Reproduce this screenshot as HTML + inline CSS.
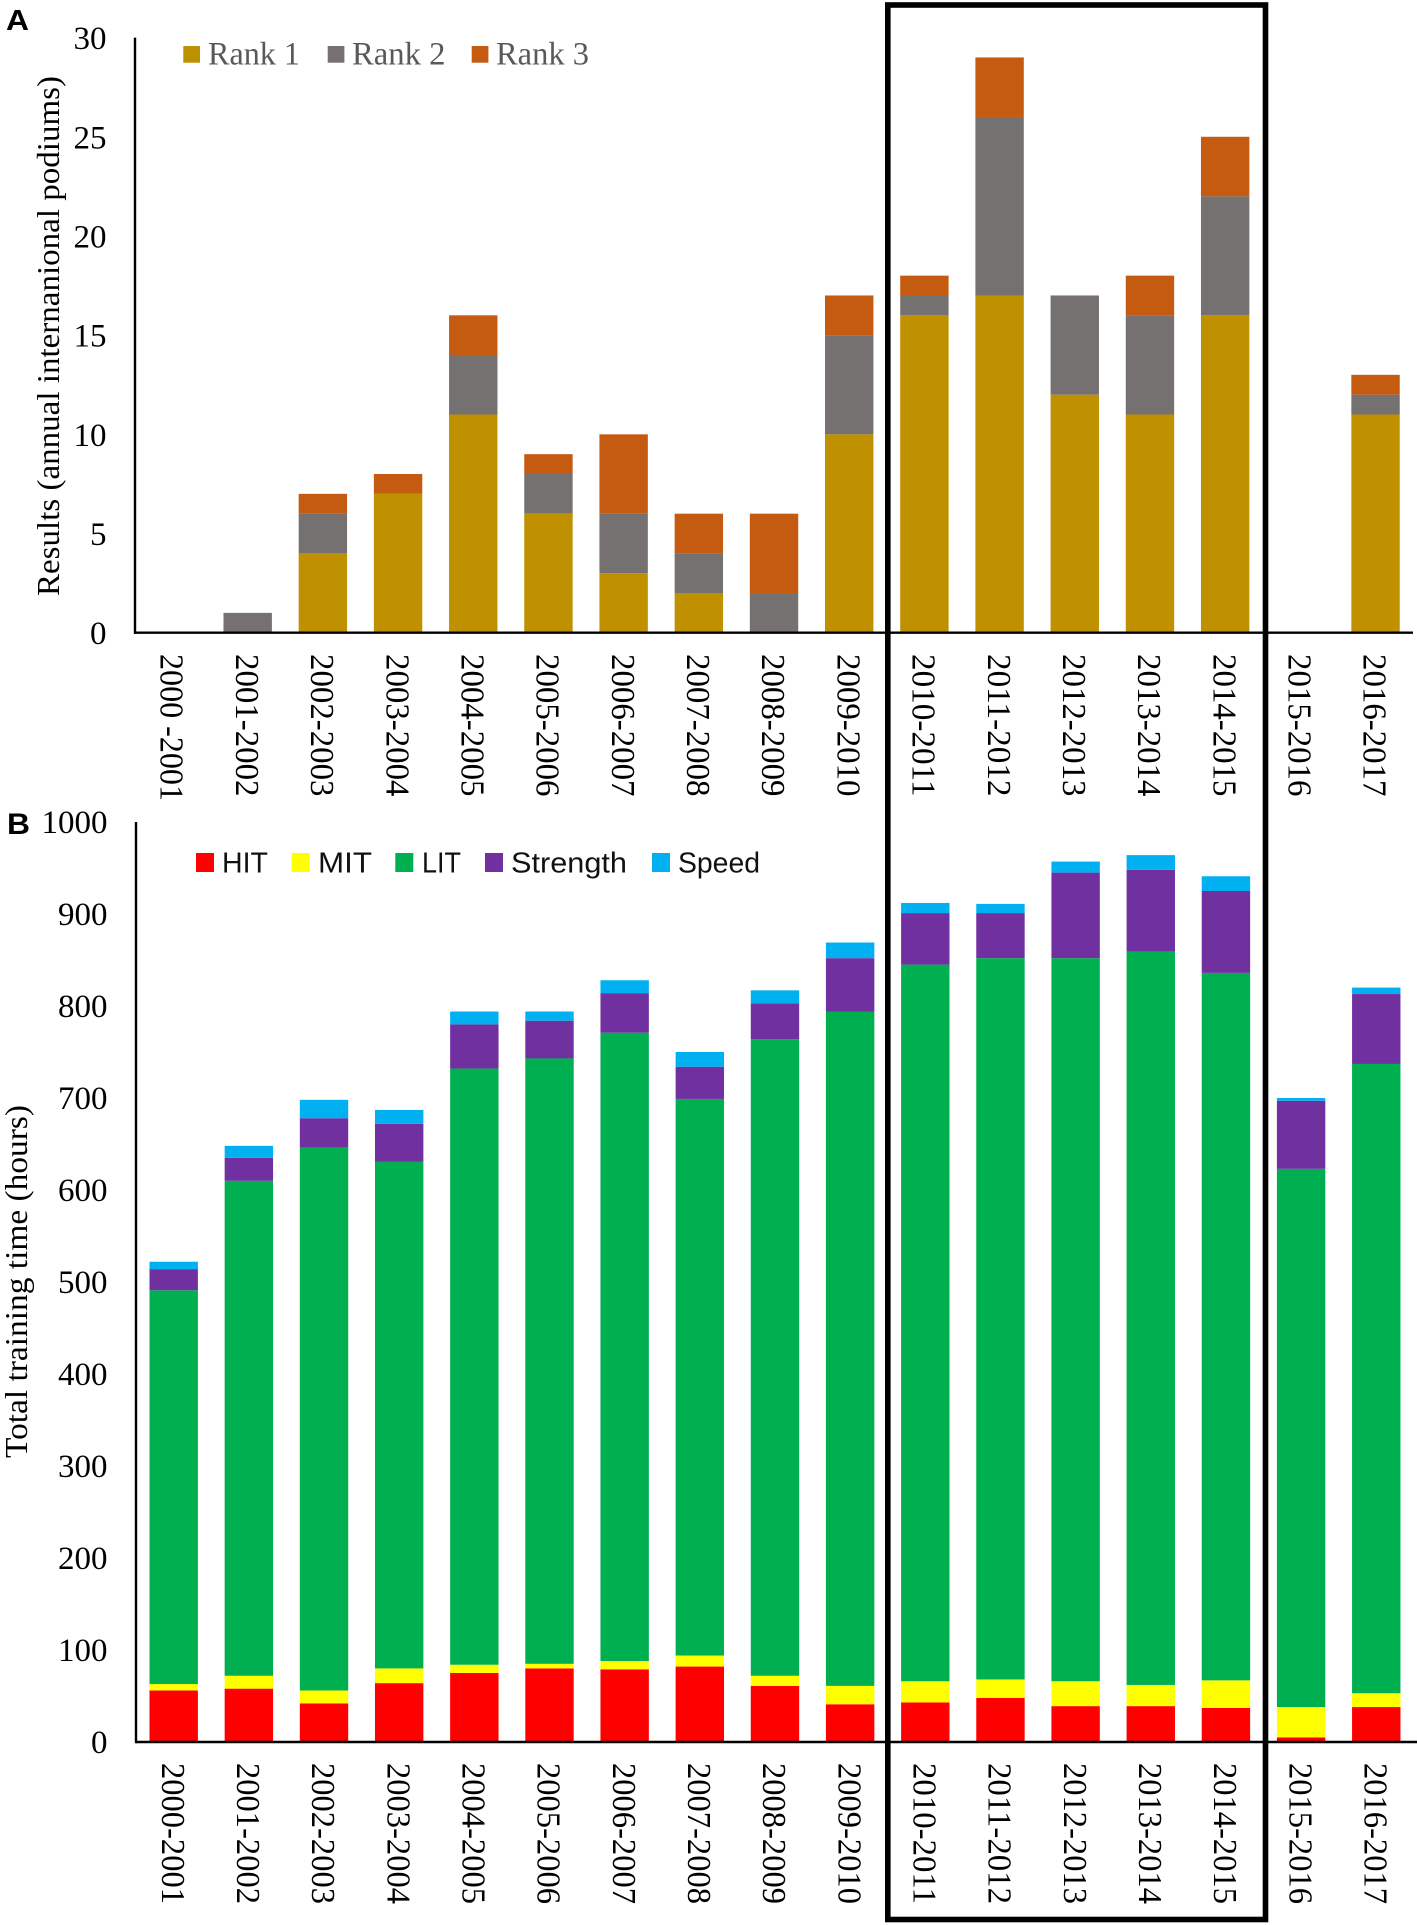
<!DOCTYPE html>
<html lang="en">
<head>
<meta charset="utf-8">
<title>Podium results and training time by season</title>
<style>
  html, body { margin: 0; padding: 0; background: #ffffff; }
  svg { display: block; }
  text { font-family: "Liberation Serif", serif; fill: #000000; }
  .sans { font-family: "Liberation Sans", sans-serif; }
</style>
</head>
<body>
<svg id="figure" xmlns="http://www.w3.org/2000/svg" width="1417" height="1925" viewBox="0 0 1417 1925">
  <rect x="0" y="0" width="1417" height="1925" fill="#ffffff"/>
  <g id="chartA"></g>
  <g id="chartB"></g>
  <text class="sans" x="6" y="30" font-size="29" font-weight="bold" textLength="23" lengthAdjust="spacingAndGlyphs">A</text>
  <text class="sans" x="7" y="834" font-size="30" font-weight="bold" textLength="23" lengthAdjust="spacingAndGlyphs">B</text>
  <text transform="translate(59,596) rotate(-90)" font-size="32" textLength="520" lengthAdjust="spacingAndGlyphs">Results (annual internanional podiums)</text>
  <text transform="translate(27,1458) rotate(-90)" font-size="32" textLength="353" lengthAdjust="spacingAndGlyphs">Total training time (hours)</text>
  <rect x="887.8" y="5" width="377.7" height="1914.5" fill="none" stroke="#000000" stroke-width="5.6"/>
</svg>
<script>
const seasonsA = ["2000 -2001","2001-2002","2002-2003","2003-2004","2004-2005","2005-2006","2006-2007","2007-2008","2008-2009","2009-2010","2010-2011","2011-2012","2012-2013","2013-2014","2014-2015","2015-2016","2016-2017"];
const seasonsB = ["2000-2001","2001-2002","2002-2003","2003-2004","2004-2005","2005-2006","2006-2007","2007-2008","2008-2009","2009-2010","2010-2011","2011-2012","2012-2013","2013-2014","2014-2015","2015-2016","2016-2017"];

const rank1 = [0,0,4,7,11,6,3,2,0,10,16,17,12,11,16,0,11];
const rank2 = [0,1,2,0,3,2,3,2,2,5,1,9,5,5,6,0,1];
const rank3 = [0,0,1,1,2,1,4,2,4,2,1,3,0,2,3,0,1];
const ticksA = [0,5,10,15,20,25,30];

const hit      = [56,58,42,64,75,80,79,82,61,41,43,48,39,39,37,5,38];
const mit      = [7,14,14,16,9,5,9,12,11,20,23,20,27,23,30,33,15];
const lit      = [428,538,590,551,648,658,683,605,692,733,779,784,786,797,769,585,684];
const strength = [23,25,32,41,48,41,43,35,39,58,56,49,93,89,89,74,76];
const speed    = [8,13,20,15,14,10,14,16,14,17,11,10,12,16,16,3,7];
const ticksB = [0,100,200,300,400,500,600,700,800,900,1000];

const SVG_NS = "http://www.w3.org/2000/svg";

function make(parent, tag, attrs, content) {
  const el = document.createElementNS(SVG_NS, tag);
  for (const k in attrs) el.setAttribute(k, attrs[k]);
  if (content !== undefined) el.textContent = content;
  parent.appendChild(el);
  return el;
}

function renderChart(root, cfg) {
  const xAt = i => cfg.x0 + i * cfg.pitch;
  const yAt = v => cfg.baseY - (v / cfg.maxV) * (cfg.baseY - cfg.topY);

  cfg.categories.forEach((cat, i) => {
    let cum = 0;
    cfg.series.forEach(s => {
      const v = s.values[i];
      if (v > 0) {
        const yTop = yAt(cum + v);
        const yBot = yAt(cum);
        const bar = make(root, "rect", {
          x: xAt(i) - cfg.barW / 2,
          y: yTop,
          width: cfg.barW,
          height: yBot - yTop,
          fill: s.color
        });
        
        
      }
      cum += v;
    });
    const label = make(root, "text", {
      transform: "translate(" + (xAt(i) - 11.8) + "," + cfg.labelY + ") rotate(90)",
      "font-size": 33.5,
      textLength: cat.length > 9 ? 147 : cfg.labelLen,
      lengthAdjust: "spacingAndGlyphs"
    }, cat);
    
    
  });

  cfg.ticks.forEach(t => {
    const tick = make(root, "text", {
      x: cfg.tickX,
      y: yAt(t) + cfg.tickDy,
      "font-size": 33,
      "text-anchor": "end"
    }, String(t));
    
    
  });

  const yAxis = make(root, "line", { x1: cfg.axisX, x2: cfg.axisX, y1: cfg.topY, y2: cfg.baseY + 1.2, stroke: "#000000", "stroke-width": 2.4 });
  
  

  const xAxis = make(root, "line", { x1: cfg.axisX, x2: cfg.axisEnd, y1: cfg.baseY, y2: cfg.baseY, stroke: "#000000", "stroke-width": 2.4 });
  
  

  cfg.legend.forEach(item => {
    const swatch = make(root, "rect", { x: item.sx, y: cfg.legendTop, width: cfg.legendSw, height: cfg.legendSh, fill: item.color });
    
    
    const attrs = { x: item.tx, y: cfg.legendBase, "font-size": cfg.legendFont, style: "fill:" + cfg.legendColor, textLength: item.tw, lengthAdjust: "spacingAndGlyphs" };
    if (cfg.legendSans) attrs["class"] = "sans";
    const txt = make(root, "text", attrs, item.label);
    
    
  });
}

renderChart(document.getElementById("chartA"), {
  categories: seasonsA,
  ticks: ticksA,
  maxV: 30,
  x0: 172.5, pitch: 75.19, barW: 48.4,
  baseY: 632.7, topY: 37.6,
  axisX: 135, axisEnd: 1413,
  tickX: 106.5, labelY: 654, tickDy: 11.5, labelLen: 142.5,
  series: [
    { key: "rank-1", values: rank1, color: "#BF9000" },
    { key: "rank-2", values: rank2, color: "#767171" },
    { key: "rank-3", values: rank3, color: "#C55A11" }
  ],
  legendTop: 46, legendSw: 16.7, legendSh: 16.7, legendBase: 64.3, legendFont: 33, legendColor: "#595959", legendSans: false,
  legend: [
    { key: "rank-1", label: "Rank 1", color: "#BF9000", sx: 183.3, tx: 208, tw: 92 },
    { key: "rank-2", label: "Rank 2", color: "#767171", sx: 327.7, tx: 352, tw: 93.5 },
    { key: "rank-3", label: "Rank 3", color: "#C55A11", sx: 471.7, tx: 496, tw: 93 }
  ]
});

renderChart(document.getElementById("chartB"), {
  categories: seasonsB,
  ticks: ticksB,
  maxV: 1000,
  x0: 173.7, pitch: 75.16, barW: 48.4,
  baseY: 1742, topY: 822,
  axisX: 136, axisEnd: 1417,
  tickX: 107.5, labelY: 1763, tickDy: 11, labelLen: 141,
  series: [
    { key: "hit", values: hit, color: "#FF0000" },
    { key: "mit", values: mit, color: "#FFFF00" },
    { key: "lit", values: lit, color: "#00B050" },
    { key: "strength", values: strength, color: "#7030A0" },
    { key: "speed", values: speed, color: "#00B0F0" }
  ],
  legendTop: 853, legendSw: 18, legendSh: 19, legendBase: 872.3, legendFont: 29, legendColor: "#111111", legendSans: true,
  legend: [
    { key: "hit", label: "HIT", color: "#FF0000", sx: 196, tx: 222, tw: 46 },
    { key: "mit", label: "MIT", color: "#FFFF00", sx: 291.7, tx: 318, tw: 54 },
    { key: "lit", label: "LIT", color: "#00B050", sx: 395.3, tx: 422, tw: 39 },
    { key: "strength", label: "Strength", color: "#7030A0", sx: 485, tx: 511, tw: 116 },
    { key: "speed", label: "Speed", color: "#00B0F0", sx: 652, tx: 678, tw: 82 }
  ]
});
</script>
</body>
</html>
